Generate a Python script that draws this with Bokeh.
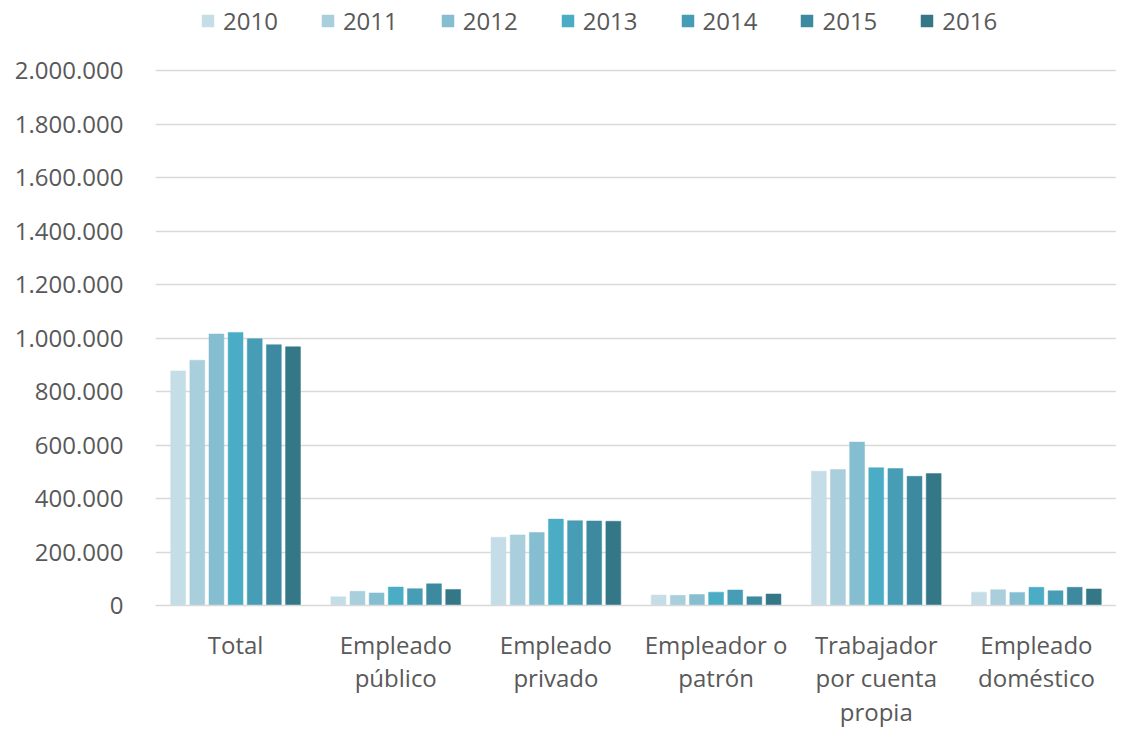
from bokeh.plotting import figure
from bokeh.models import ColumnDataSource, Legend, LegendItem, FixedTicker, Range1d, FactorRange
from bokeh.transform import dodge
from bokeh.embed import file_html
from bokeh.resources import INLINE

categories = ["Total", "Empleado\npúblico", "Empleado\nprivado", "Empleador o\npatrón",
              "Trabajador\npor cuenta\npropia", "Empleado\ndoméstico"]
years = ["2010", "2011", "2012", "2013", "2014", "2015", "2016"]
v2010 = [877000, 33000, 255000, 39000, 502000, 50000]
v2011 = [917000, 53000, 264000, 38000, 508000, 59000]
v2012 = [1015000, 47000, 273000, 41000, 611000, 49000]
v2013 = [1021000, 69000, 323000, 50000, 515000, 68000]
v2014 = [997000, 63000, 317000, 58000, 512000, 55000]
v2015 = [975000, 81000, 316000, 33000, 483000, 68000]
v2016 = [967000, 60000, 315000, 43000, 493000, 62000]
series = [v2010, v2011, v2012, v2013, v2014, v2015, v2016]
colors = ["#C5DDE7", "#A9CEDC", "#86BED1", "#4BACC6", "#469DB5", "#3D8AA0", "#347888"]
y_ticks = [0, 200000, 400000, 600000, 800000, 1000000, 1200000, 1400000, 1600000, 1800000, 2000000]
y_labels = ["0", "200.000", "400.000", "600.000", "800.000", "1.000.000", "1.200.000",
            "1.400.000", "1.600.000", "1.800.000", "2.000.000"]

data = {"cat": categories}
for y, s in zip(years, series):
    data["y" + y] = s
src = ColumnDataSource(data)

FONT = "Open Sans"
TXT = "#595959"
GRID = "#D9D9D9"

PLOT_H = 535          # pixel height from 0 to 2.000.000
TOP = 70              # pixel space above the 2.000.000 line (legend area)
FH = PLOT_H + TOP
y_end = y_ticks[-1] * FH / PLOT_H

p = figure(frame_width=961, frame_height=FH, x_range=FactorRange(*categories, range_padding=0),
           y_range=Range1d(0, y_end), output_backend="svg", toolbar_location=None,
           min_border_left=155, min_border_right=0, min_border_top=0, min_border_bottom=0)
p.outline_line_color = None

pitch = 0.1195
bw = 0.093
items = []
for i, (y, c) in enumerate(zip(years, colors)):
    r = p.vbar(x=dodge("cat", (i - 3) * pitch, range=p.x_range), top="y" + y, width=bw,
               source=src, fill_color=c, line_color=c, line_width=0.5)
    items.append(LegendItem(label=y, renderers=[r]))

legend = Legend(items=items, orientation="horizontal", location=(45, FH - 37),
                label_text_font=FONT, label_text_font_size="24px", label_text_color=TXT,
                label_height=30, glyph_width=15, glyph_height=15, label_standoff=8, spacing=42,
                border_line_color=None, background_fill_alpha=0, margin=0, padding=0)
p.add_layout(legend)

p.yaxis.ticker = FixedTicker(ticks=y_ticks)
p.yaxis.major_label_overrides = {t: l for t, l in zip(y_ticks, y_labels)}
p.yaxis.axis_line_color = None
p.yaxis.major_tick_line_color = None
p.yaxis.minor_tick_line_color = None
p.yaxis.major_label_text_font = FONT
p.yaxis.major_label_text_font_size = "24px"
p.yaxis.major_label_text_color = TXT
p.yaxis.major_label_standoff = 26

p.xaxis.axis_line_color = GRID
p.xaxis.axis_line_width = 1.5
p.xaxis.major_tick_line_color = None
p.xaxis.minor_tick_line_color = None
p.xaxis.major_label_text_font = FONT
p.xaxis.major_label_text_font_size = "24px"
p.xaxis.major_label_text_color = TXT
p.xaxis.major_label_standoff = 16
p.xaxis.major_label_text_line_height = 1.03
p.xaxis.major_label_orientation = "horizontal"

p.xgrid.grid_line_color = None
p.ygrid.grid_line_color = GRID
p.ygrid.grid_line_width = 1.5

open("out.html", "w").write(file_html(p, INLINE))
